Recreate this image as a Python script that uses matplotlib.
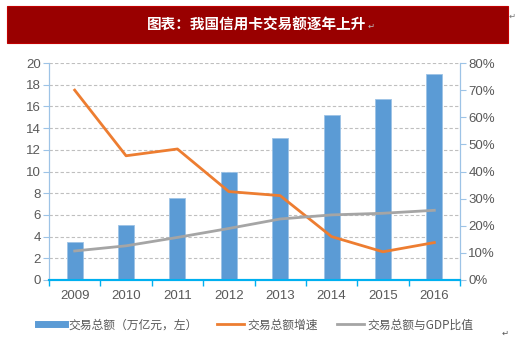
import numpy as np
import matplotlib
matplotlib.use('Agg')
import matplotlib.pyplot as plt
from matplotlib.patches import Rectangle
from matplotlib.lines import Line2D
from matplotlib.ticker import FuncFormatter

plt.rcParams['font.family'] = ['Liberation Sans', 'Noto Sans CJK SC', 'DejaVu Sans']

years = ['2009', '2010', '2011', '2012', '2013', '2014', '2015', '2016']
volume = [3.5, 5.1, 7.6, 10.0, 13.1, 15.2, 16.7, 19.0]          # 万亿元
growth = [70.0, 45.8, 48.3, 32.6, 31.1, 16.0, 10.4, 13.8]       # %
gdp_ratio = [10.7, 12.6, 15.7, 19.0, 22.5, 24.0, 24.6, 25.7]    # %

BLUE = '#5B9BD5'
ORANGE = '#ED7D31'
GRAY = '#A5A5A5'
TEXT = '#595959'
CJK = ['Noto Sans CJK SC', 'DejaVu Sans']

fig = plt.figure(figsize=(5.2, 3.41), dpi=100)

# title banner
fig.patches.append(Rectangle((7 / 520, 1 - 43 / 341), 501 / 520, 37 / 341,
                             transform=fig.transFigure, facecolor='#990000',
                             edgecolor='#C00000', linewidth=0.8))
fig.text(257 / 520, 1 - 25 / 341, '图表：我国信用卡交易额逐年上升', color='white',
         fontsize=10.5, fontweight='bold', ha='center', va='center', family=CJK)
fig.text(371 / 520, 1 - 26 / 341, '↵', color='#BBBBBB', fontsize=6, ha='center', va='center', family=CJK)
fig.text(512 / 520, 1 - 16 / 341, '↵', color='#777777', fontsize=6, ha='center', va='center', family=CJK)
fig.text(505 / 520, 1 - 333 / 341, '↵', color='#555555', fontsize=6, ha='center', va='center', family=CJK)

ax = fig.add_axes([49 / 520, 1 - 280 / 341, 411 / 520, 217 / 341])
ax2 = ax.twinx()

x = np.arange(len(years))
ax.bar(x, volume, width=0.31, color=BLUE, edgecolor='#9DC3E6', linewidth=0.6, zorder=3)
ax2.plot(x, growth, color=ORANGE, linewidth=2, zorder=4)
ax2.plot(x, gdp_ratio, color=GRAY, linewidth=2, zorder=4)

ax.set_xlim(-0.5, len(years) - 0.5)
ax.set_ylim(0, 20)
ax.set_yticks(range(0, 21, 2))
ax2.set_ylim(0, 80)
ax2.set_yticks(range(0, 81, 10))
ax2.yaxis.set_major_formatter(FuncFormatter(lambda v, p: f'{int(v)}%'))

ax.set_xticks(x)
ax.set_xticklabels(years)
ax.set_xticks(np.arange(-0.5, len(years), 1), minor=True)
ax.tick_params(axis='x', which='major', length=0, pad=7, labelsize=9.5, labelcolor=TEXT)
ax.tick_params(axis='x', which='minor', length=4, width=1, color='#00B0F0', direction='out')
ax.tick_params(axis='y', length=4, color='#9DC3E6', labelsize=9.5, labelcolor=TEXT, pad=2)
ax2.tick_params(axis='y', length=4, color='#9DC3E6', labelsize=9.5, labelcolor=TEXT, pad=2)

ax.yaxis.grid(True, linestyle=(0, (3, 2)), color='#BFBFBF', linewidth=0.8, zorder=0)
ax.set_axisbelow(True)

for a in (ax, ax2):
    a.spines['top'].set_visible(False)
    a.spines['left'].set_color('#9DC3E6')
    a.spines['right'].set_color('#9DC3E6')
    a.spines['bottom'].set_color('#00B0F0')
    a.spines['bottom'].set_linewidth(1.5)

handles = [Line2D([0], [0], color=BLUE, linewidth=5),
           Line2D([0], [0], color=ORANGE, linewidth=2),
           Line2D([0], [0], color=GRAY, linewidth=2)]
labels = ['交易总额（万亿元，左）', '交易总额增速', '交易总额与GDP比值']
fig.legend(handles, labels, loc='center', bbox_to_anchor=(256 / 520, 1 - 325 / 341),
           ncol=3, frameon=False, labelcolor=TEXT, handlelength=2.3,
           handletextpad=0.3, columnspacing=1.6, prop={'family': CJK, 'size': 8.5})

fig.savefig('out.png', dpi=100)
